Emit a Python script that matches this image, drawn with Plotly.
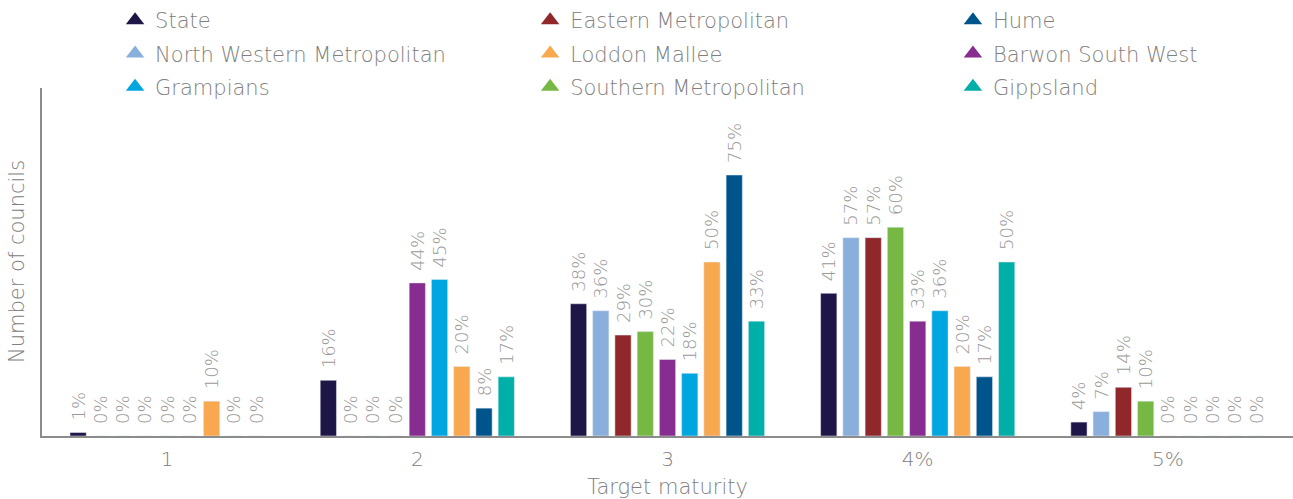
import plotly.graph_objects as go

categories = ["1", "2", "3", "4%", "5%"]
series_names = ["State", "North Western Metropolitan", "Eastern Metropolitan",
                "Southern Metropolitan", "Barwon South West", "Grampians",
                "Loddon Mallee", "Hume", "Gippsland"]
state = [1, 16, 38, 41, 4]
north_western = [0, 0, 36, 57, 7]
eastern = [0, 0, 29, 57, 14]
southern = [0, 0, 30, 60, 10]
barwon = [0, 44, 22, 33, 0]
grampians = [0, 45, 18, 36, 0]
loddon = [10, 20, 50, 20, 0]
hume = [0, 8, 75, 17, 0]
gippsland = [0, 17, 33, 50, 0]
colors = ["#1e1646", "#8aafdc", "#8f272b", "#76b843", "#862d8f",
          "#00a6df", "#f8a84f", "#00548c", "#00afa8"]
values = [state, north_western, eastern, southern, barwon, grampians, loddon, hume, gippsland]
legend_columns = [["State", "North Western Metropolitan", "Grampians"],
                  ["Eastern Metropolitan", "Loddon Mallee", "Southern Metropolitan"],
                  ["Hume", "Barwon South West", "Gippsland"]]

FONT = "DejaVu Sans"
W = 200
GREY = "#808080"

fig = go.Figure()
for name, vals, col in zip(series_names, values, colors):
    fig.add_trace(go.Bar(
        x=categories, y=vals, name=name, marker_color=col,
        text=[f"\u2002{v}%" for v in vals], textposition="outside", textangle=-90,
        textfont=dict(family=FONT, size=18, color="#999999", weight=W),
        constraintext="none", cliponaxis=False, showlegend=False,
    ))

legend_ids = ["legend", "legend2", "legend3"]
for lid, column in zip(legend_ids, legend_columns):
    for name in column:
        col = colors[series_names.index(name)]
        fig.add_trace(go.Scatter(
            x=[None], y=[None], mode="markers", name=name, legend=lid,
            legendgroup=name,
            marker=dict(symbol="triangle-up", size=16, color=col),
            showlegend=True,
        ))

legend_x = [0.089, 0.41, 0.737]
legend_common = dict(orientation="v", yanchor="top", y=1.0, xanchor="left",
                     yref="container", xref="container", traceorder="grouped",
                     tracegroupgap=3, itemsizing="trace", bgcolor="rgba(0,0,0,0)",
                     font=dict(family=FONT, size=21, color=GREY, weight=W))

fig.update_layout(
    width=1293, height=499,
    margin=dict(l=42, r=0, t=88, b=63, autoexpand=False),
    paper_bgcolor="white", plot_bgcolor="white",
    barmode="group", bargap=0.2, bargroupgap=0.27,
    font=dict(family=FONT, color=GREY),
    legend=dict(x=legend_x[0], **legend_common),
    legend2=dict(x=legend_x[1], **legend_common),
    legend3=dict(x=legend_x[2], **legend_common),
    xaxis=dict(showline=True, linecolor="#8c8c8c", linewidth=1.5, ticks="", automargin=False,
               ticklabelstandoff=4,
               tickfont=dict(family=FONT, size=20, color=GREY, weight=W),
               title=dict(text="Target maturity", font=dict(family=FONT, size=21, color=GREY, weight=W), standoff=23)),
    yaxis=dict(range=[0, 100], showline=True, linecolor="#8c8c8c", linewidth=1.5, automargin=False,
               showgrid=False, zeroline=False, showticklabels=False, ticks=""),
    annotations=[dict(text="Number of councils", x=0, xref="paper", y=0.5, yref="paper",
                      xanchor="center", yanchor="middle", xshift=-25, textangle=-90,
                      showarrow=False, font=dict(family=FONT, size=21, color=GREY, weight=W))],
)

fig.write_html("out.html", config={"displayModeBar": False},
               post_script="document.body.style.margin='0';")
